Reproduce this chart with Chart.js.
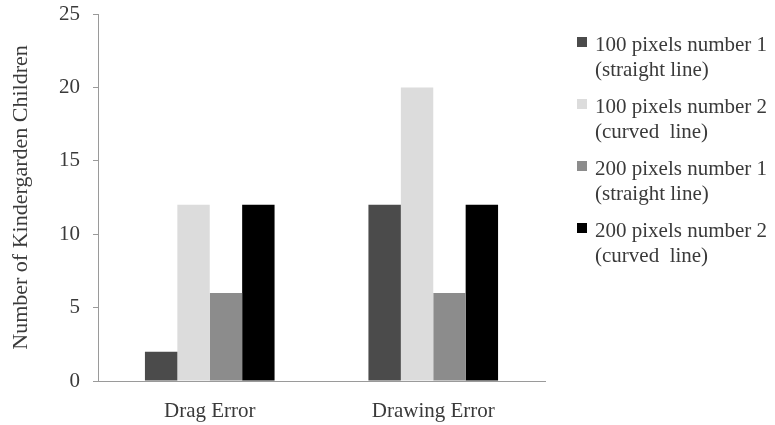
<!DOCTYPE html>
<html>
<head>
<meta charset="utf-8">
<script src="https://cdn.jsdelivr.net/npm/chart.js@4"></script>
<style>
  body { margin: 0; background: #fff; }
  #wrap { width: 775px; height: 425px; }
</style>
</head>
<body>
<div id="wrap"><canvas id="myChart"></canvas></div>
<script>
// data
const categories = ["Drag Error", "Drawing Error"];
const seriesNames = [
  ["100 pixels number 1", "(straight line)"],
  ["100 pixels number 2", "(curved  line)"],
  ["200 pixels number 1", "(straight line)"],
  ["200 pixels number 2", "(curved  line)"],
];
const px100No1 = [2, 12];
const px100No2 = [12, 20];
const px200No1 = [6, 6];
const px200No2 = [12, 12];
const yTicks = [0, 5, 10, 15, 20, 25];

const colors = ["#4b4b4b", "#dcdcdc", "#8c8c8c", "#000000"];
const serif = "'Liberation Serif', 'Times New Roman', serif";

// legend with two-line labels, box next to the first line
const sideLegend = {
  id: "sideLegend",
  afterDraw(chart) {
    const ctx = chart.ctx;
    ctx.save();
    ctx.font = "21px " + serif;
    ctx.textBaseline = "middle";
    ctx.textAlign = "left";
    chart.data.datasets.forEach((ds, i) => {
      const y = 45 + i * 62;
      ctx.fillStyle = ds.backgroundColor;
      ctx.fillRect(577, y - 8, 10, 10);
      ctx.fillStyle = "#3a3a3a";
      ds.label.forEach((line, j) => ctx.fillText(line, 595, y + j * 25));
    });
    ctx.restore();
  },
};

const ctx = document.getElementById("myChart").getContext("2d");
const myChart = new Chart(ctx, {
  type: "bar",
  data: {
    labels: categories,
    datasets: [px100No1, px100No2, px200No1, px200No2].map((d, i) => ({
      label: seriesNames[i],
      data: d,
      backgroundColor: colors[i],
      borderWidth: 0,
      categoryPercentage: 0.58,
      barPercentage: 1,
    })),
  },
  options: {
    responsive: true,
    maintainAspectRatio: false,
    animation: false,
    layout: { padding: { top: 14, right: 230, left: 0, bottom: 0 } },
    plugins: {
      legend: { display: false },
      tooltip: { enabled: false },
    },
    scales: {
      x: {
        grid: { display: false },
        border: { display: true, color: "#9a9a9a" },
        ticks: { color: "#3a3a3a", font: { family: serif, size: 21 }, padding: 10 },
        afterFit: (s) => { s.height = 44; },
      },
      y: {
        min: 0,
        max: 25,
        afterBuildTicks: (s) => { s.ticks = yTicks.map((v) => ({ value: v })); },
        grid: { drawOnChartArea: false, tickLength: 5, color: "#9a9a9a" },
        border: { display: true, color: "#9a9a9a" },
        ticks: { color: "#3a3a3a", font: { family: serif, size: 21 }, padding: 13 },
        title: {
          display: true,
          text: "Number of Kindergarden Children",
          color: "#3a3a3a",
          font: { family: serif, size: 22 },
          padding: { top: 8, bottom: 0 },
        },
        afterFit: (s) => {
          s.width = 98;
          s.paddingTop = 0;
          s.paddingBottom = 0;
        },
      },
    },
  },
  plugins: [sideLegend],
});
</script>
</body>
</html>
